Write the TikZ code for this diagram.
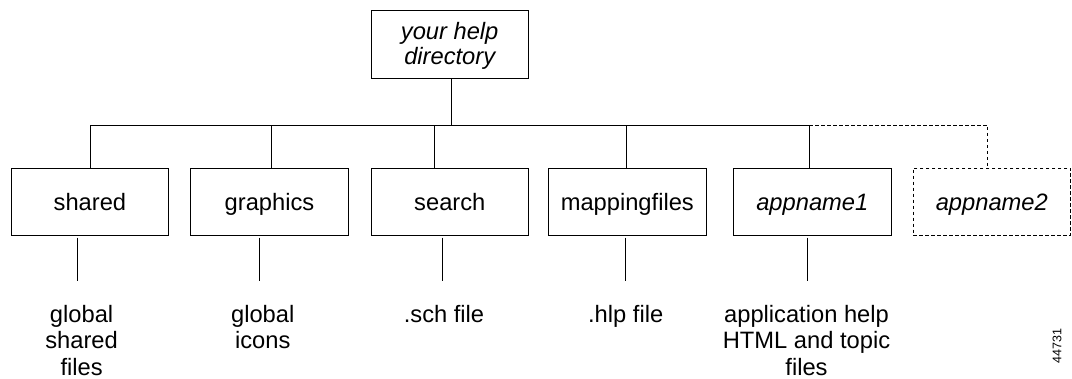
\documentclass[tikz,border=0pt]{standalone}
\usepackage{fontspec}
\setmainfont{Liberation Sans}
\usetikzlibrary{calc}

\tikzset{
  dirbox/.style={draw, line width=0.8pt, minimum width=157.5pt, minimum height=67.3pt,
    inner sep=0pt, font=\fontsize{23.7}{26.7}\selectfont, text height=17pt, text depth=0pt},
  optbox/.style={dirbox, dash pattern=on 3.5pt off 2.5pt},
  rootbox/.style={draw, line width=0.8pt, minimum width=157.3pt, minimum height=67.7pt,
    inner sep=0pt, align=center, text depth=1.7pt,
    font=\fontsize{23.7}{25}\selectfont\itshape},
  desc/.style={align=center, inner sep=0pt, anchor=north,
    font=\fontsize{23.7}{26.7}\selectfont},
  link/.style={line width=0.8pt},
  optlink/.style={link, dash pattern=on 3.5pt off 2.5pt},
}

\begin{document}
\begin{tikzpicture}[x=1pt,y=-1pt]
  \useasboundingbox (0,0) rectangle (1072,379);

  % Directories
  \node[rootbox] (root) at (449.7,44.2) {your help\\directory};
  \node[dirbox] (shared) at (89.9,201.7) {shared};
  \node[dirbox] (graphics) at (269.5,201.7) {graphics};
  \node[dirbox] (search) at (449.8,201.7) {search};
  \node[dirbox] (mapping) at (627.3,201.7) {mappingfiles};
  \node[dirbox] (app1) at (812.3,201.7) {\itshape appname1};
  \node[optbox] (app2) at (991.8,201.7) {\itshape appname2};

  % Tree lines
  \coordinate (bus) at (0,125);
  \coordinate (rootstem) at ([xshift=1.3pt]root.south);
  \coordinate (s1) at ([xshift=0.7pt]shared.north);
  \coordinate (s2) at ([xshift=1.5pt]graphics.north);
  \coordinate (s3) at ([xshift=-15pt]search.north);
  \coordinate (s4) at ([xshift=-1pt]mapping.north);
  \coordinate (s5) at ([xshift=-3pt]app1.north);
  \coordinate (s6) at ([xshift=-4.5pt]app2.north);
  \draw[link] (rootstem) -- (rootstem |- bus);
  \draw[link] (s1 |- bus) -- (s5 |- bus);
  \draw[link] (s1) -- (s1 |- bus);
  \draw[link] (s2) -- (s2 |- bus);
  \draw[link] (s3) -- (s3 |- bus);
  \draw[link] (s4) -- (s4 |- bus);
  \draw[link] (s5) -- (s5 |- bus);
  \draw[optlink] (s5 |- bus) -| (s6);

  % Contents
  \coordinate (stemend) at (0,281);
  \coordinate (b1) at ([xshift=-13pt,yshift=-2pt]shared.south);
  \coordinate (b2) at ([xshift=-10pt,yshift=-2pt]graphics.south);
  \coordinate (b3) at ([xshift=-7.5pt,yshift=-2pt]search.south);
  \coordinate (b4) at ([xshift=-2pt,yshift=-2pt]mapping.south);
  \coordinate (b5) at ([xshift=-4.7pt,yshift=-2pt]app1.south);
  \draw[link] (b1) -- (b1 |- stemend);
  \draw[link] (b2) -- (b2 |- stemend);
  \draw[link] (b3) -- (b3 |- stemend);
  \draw[link] (b4) -- (b4 |- stemend);
  \draw[link] (b5) -- (b5 |- stemend);

  \node[desc] (sharedtxt) at (81.6,304.7) {global\\shared\\files};
  \node[desc] (graphicstxt) at (262.7,304.7) {global\\icons};
  \node[desc] (searchtxt) at (444,304.7) {.sch file};
  \node[desc] (mappingtxt) at (625.7,304.7) {.hlp file};
  \node[desc] (app1txt) at (806.5,304.7) {application help\\HTML and topic\\files};

  \node[rotate=90, inner sep=0pt, font=\fontsize{12.5}{15}\selectfont] (figid) at (1057,346) {44731};
\end{tikzpicture}
\end{document}
